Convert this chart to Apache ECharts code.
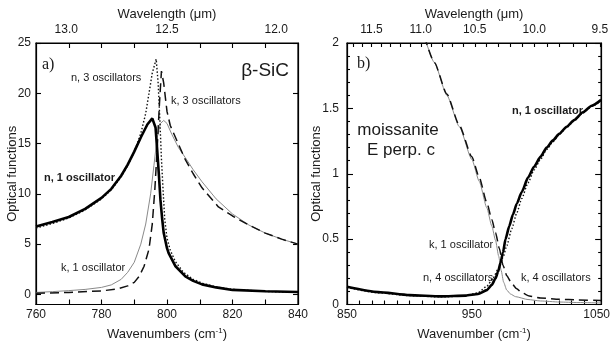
<!DOCTYPE html>
<html>
<head>
<meta charset="utf-8">
<script src="https://cdn.jsdelivr.net/npm/echarts@6/dist/echarts.min.js"></script>
<style>
  html, body { margin: 0; padding: 0; background: #fff; }
  #chart { width: 613px; height: 346px; }
</style>
</head>
<body>
<div id="chart"></div>
<script>
// panel a) beta-SiC, [wavenumber, value]
const nOneA = [[760,6.75],[765,7.2],[770,7.7],[775,8.5],[780,9.6],[783,10.5],[786,11.8],[788,12.9],[790,14.2],[792,15.6],[794,16.9],[795.5,17.5],[796.5,16.6],[797,14.4],[797.5,12.0],[798,9.4],[798.5,7.6],[799,6.1],[800,4.6],[800.5,4.1],[802.6,2.8],[805.6,1.8],[808,1.35],[810.7,1.0],[815,0.7],[820,0.45],[830,0.32],[840,0.25]]
const nThreeA = [[760,6.6],[765,7.05],[770,7.6],[775,8.4],[780,9.5],[783,10.4],[786,11.7],[788,12.8],[790,14.2],[792,16.0],[793.5,18.0],[794.5,20.0],[795.5,22.0],[796.7,23.4],[797.3,21.0],[797.8,17.5],[798.3,13.5],[798.8,10.4],[799.3,7.5],[800,5.6],[801,4.4],[802.5,3.3],[805,2.2],[808,1.5],[811,1.1],[815,0.75],[820,0.5],[830,0.3],[840,0.2]]
const kOneA = [[760,0.2],[765,0.28],[770,0.38],[775,0.5],[780,0.7],[783,0.95],[786,1.5],[788,2.2],[790,3.2],[792,5.0],[793.5,7.0],[795,10.0],[796,12.8],[797,15.6],[798,17.0],[799,17.3],[800,17.0],[801.5,15.9],[803.5,14.6],[805.6,13.6],[808,12.4],[810.7,11.2],[815,9.5],[820,8.0],[825,6.9],[830,6.1],[835,5.5],[840,5.0]]
const kThreeA = [[760,0.12],[770,0.2],[780,0.35],[785,0.55],[788,0.85],[790,1.2],[791.5,1.8],[793,2.8],[794.5,4.5],[795.5,7.0],[796.3,10.5],[797,14.5],[797.7,19.0],[798.3,22.2],[799,21.0],[800,18.2],[801,16.8],[802.6,15.6],[805.6,13.4],[808,12.0],[810.7,10.6],[815.7,8.7],[820,7.8],[825,6.9],[830,6.1],[835,5.5],[840,5.0]]

// panel b) moissanite E perp. c
const nOneB = [[850,0.135],[875,0.095],[900,0.072],[925,0.062],[945,0.068],[955,0.08],[962,0.11],[966,0.15],[969,0.2],[971,0.25],[973,0.32],[975,0.4],[977,0.5],[980,0.6],[983,0.69],[986,0.77],[990,0.86],[995,0.97],[1000,1.056],[1005,1.13],[1010,1.2],[1015,1.255],[1020,1.305],[1026,1.36],[1032,1.41],[1039,1.47],[1046,1.52],[1053.6,1.565]]
const nFourB = [[850,0.13],[875,0.09],[900,0.068],[925,0.058],[945,0.065],[955,0.09],[962,0.14],[967,0.2],[971,0.27],[975,0.36],[978,0.45],[982,0.58],[986,0.7],[990,0.81],[995,0.93],[1000,1.03],[1005,1.11],[1010,1.185],[1015,1.245],[1020,1.3],[1026,1.355],[1032,1.405],[1039,1.465],[1046,1.515],[1053.6,1.56]]
const kOneB = [[912,2.05],[920,1.85],[930,1.6],[940,1.36],[950,1.11],[956,0.94],[962,0.74],[966,0.6],[969,0.49],[971.5,0.37],[973.5,0.26],[975.5,0.17],[978,0.11],[981,0.08],[985,0.06],[995,0.038],[1005,0.027],[1020,0.019],[1035,0.015],[1053.6,0.012]]
const kFourB = [[912,2.05],[920,1.85],[930,1.61],[940,1.37],[950,1.13],[956,0.97],[962,0.78],[966,0.65],[969,0.55],[972,0.43],[975,0.3],[978,0.22],[982,0.16],[986,0.12],[990,0.09],[996,0.065],[1005,0.05],[1020,0.04],[1035,0.035],[1053.6,0.03]]

// ticks
const yTicksA = [0, 5, 10, 15, 20, 25]
const wavelengthLabelsA = [13.0, 12.5, 12.0]
const topTicksA = [770, 780, 790, 800, 810, 820, 830]
const bottomLabelsB = [850, 950, 1050]
const wavelengthLabelsB = [11.5, 11.0, 10.5, 10.0, 9.5]

const FONT = "Liberation Sans"
const INK = "#1a1a1a"
const toWn = (w) => 10000 / w

const minorTicksB = []
for (let w = 117; w >= 95; w--) minorTicksB.push(toWn(w / 10))
const bottomTicksB = []
for (let v = 850; v <= 1050; v += 10) bottomTicksB.push(v)

const chart = echarts.init(document.getElementById("chart"), null, { renderer: "canvas" })

const labelStyle = { fontFamily: FONT, fontSize: 12, color: INK }
const nameStyle = { fontFamily: FONT, fontSize: 13, color: INK }
const subName = {
  fontFamily: FONT, fontSize: 13, color: INK,
  rich: { sup: { fontFamily: FONT, fontSize: 8, color: INK, padding: [0, 0, 8, 0] } },
}
const tick = (len, extra) => Object.assign({ show: true, inside: true, length: len, lineStyle: { color: "#000", width: 1.1 } }, extra || {})
const minor = { show: true, splitNumber: 5, length: 3, lineStyle: { color: "#000", width: 1.1 } }
const axLine = { show: true, onZero: false, lineStyle: { color: "#000", width: 1.2 } }
const noSplit = { show: false }

const line = (name, data, x, y, style, smooth) => ({
  name, type: "line", data, xAxisIndex: x, yAxisIndex: y,
  symbol: "none", silent: true, animation: false,
  smooth: smooth || false, smoothMonotone: "x",
  lineStyle: style,
})

const option = {
  animation: false,
  backgroundColor: "#fff",
  grid: [
    { left: 36, right: 315, top: 43, bottom: 41, show: true, borderColor: "#000", borderWidth: 1.2, backgroundColor: "transparent" },
    { left: 347, right: 5, top: 43, bottom: 41, show: true, borderColor: "#000", borderWidth: 1.2, backgroundColor: "transparent" },
  ],
  xAxis: [
    {
      gridIndex: 0, type: "value", position: "bottom", min: 760, max: 840, interval: 10,
      axisLine: axLine, splitLine: noSplit, axisTick: tick(5),
      axisLabel: Object.assign({ margin: 4, formatter: (v) => (v % 20 === 0 ? String(v) : "") }, labelStyle),
      name: "Wavenumbers (cm{sup|-1})", nameLocation: "middle", nameGap: 22, nameMoveOverlap: false, nameTextStyle: subName,
    },
    {
      gridIndex: 0, type: "value", position: "top", min: 760, max: 840,
      axisLine: axLine, splitLine: noSplit, axisTick: tick(5, { customValues: topTicksA }),
      axisLabel: Object.assign({ margin: 7, customValues: wavelengthLabelsA.map(toWn), formatter: (v) => (10000 / v).toFixed(1) }, labelStyle),
      name: "Wavelength (μm)", nameLocation: "middle", nameGap: 22, nameMoveOverlap: false, nameTextStyle: nameStyle,
    },
    {
      gridIndex: 1, type: "value", position: "bottom", min: 850, max: 1053.6,
      axisLine: axLine, splitLine: noSplit, axisTick: tick(4, { customValues: bottomTicksB }),
      axisLabel: Object.assign({ margin: 4, customValues: bottomLabelsB, formatter: (v) => String(v) }, labelStyle),
      name: "Wavenumber (cm{sup|-1})", nameLocation: "middle", nameGap: 22, nameMoveOverlap: false, nameTextStyle: subName,
    },
    {
      gridIndex: 1, type: "value", position: "top", min: 850, max: 1053.6,
      axisLine: axLine, splitLine: noSplit, axisTick: tick(4, { customValues: minorTicksB }),
      axisLabel: Object.assign({ margin: 7, customValues: wavelengthLabelsB.map(toWn), formatter: (v) => (10000 / v).toFixed(1) }, labelStyle),
      name: "Wavelength (μm)", nameLocation: "middle", nameGap: 22, nameMoveOverlap: false, nameTextStyle: nameStyle,
    },
  ],
  yAxis: [
    {
      gridIndex: 0, type: "value", position: "left", min: -1, max: 25,
      axisLine: axLine, splitLine: noSplit, axisTick: tick(5, { customValues: yTicksA }),
      axisLabel: Object.assign({ margin: 5, customValues: yTicksA }, labelStyle),
      name: "Optical functions", nameLocation: "middle", nameGap: 17, nameMoveOverlap: false, nameTextStyle: nameStyle,
    },
    {
      gridIndex: 0, type: "value", position: "right", min: -1, max: 25,
      axisLine: axLine, splitLine: noSplit, axisTick: tick(5, { customValues: yTicksA }),
      axisLabel: { show: false },
    },
    {
      gridIndex: 1, type: "value", position: "left", min: 0, max: 2, interval: 0.5,
      axisLine: axLine, splitLine: noSplit, axisTick: tick(6), minorTick: minor,
      axisLabel: Object.assign({ margin: 8 }, labelStyle),
      name: "Optical functions", nameLocation: "middle", nameGap: 24, nameMoveOverlap: false, nameTextStyle: nameStyle,
    },
    {
      gridIndex: 1, type: "value", position: "right", min: 0, max: 2, interval: 0.5,
      axisLine: axLine, splitLine: noSplit, axisTick: tick(6), minorTick: minor,
      axisLabel: { show: false },
    },
  ],
  series: [
    line("k, 1 oscillator", kOneA, 0, 0, { color: "#8a8a8a", width: 1 }),
    line("k, 3 oscillators", kThreeA, 0, 0, { color: "#111", width: 1.5, type: [9, 5] }),
    line("n, 3 oscillators", nThreeA, 0, 0, { color: "#111", width: 1.4, type: [1.5, 2] }),
    line("n, 1 oscillator", nOneA, 0, 0, { color: "#000", width: 2.6 }),
    line("k, 1 oscillator", kOneB, 2, 2, { color: "#8a8a8a", width: 1 }, 0.2),
    line("k, 4 oscillators", kFourB, 2, 2, { color: "#111", width: 1.5, type: [9, 5] }, 0.2),
    line("n, 4 oscillators", nFourB, 2, 2, { color: "#111", width: 1.4, type: [1.5, 2] }, 0.2),
    line("n, 1 oscillator", nOneB, 2, 2, { color: "#000", width: 2.6 }, 0.2),
  ],
  graphic: [
    { type: "text", x: 42, y: 65, style: { text: "a)", font: "16px 'Liberation Serif'", fill: INK, verticalAlign: "middle" } },
    { type: "text", x: 289, y: 71, style: { text: "β-SiC", font: "19px '" + FONT + "'", fill: INK, align: "right", verticalAlign: "middle" } },
    { type: "text", x: 71, y: 78, style: { text: "n, 3 oscillators", font: "11px '" + FONT + "'", fill: INK, verticalAlign: "middle" } },
    { type: "text", x: 171, y: 101, style: { text: "k, 3 oscillators", font: "11px '" + FONT + "'", fill: INK, verticalAlign: "middle" } },
    { type: "text", x: 44, y: 178, style: { text: "n, 1 oscillator", font: "bold 11px '" + FONT + "'", fill: INK, verticalAlign: "middle" } },
    { type: "text", x: 61, y: 268, style: { text: "k, 1 oscillator", font: "11px '" + FONT + "'", fill: INK, verticalAlign: "middle" } },
    { type: "text", x: 357, y: 64, style: { text: "b)", font: "16px 'Liberation Serif'", fill: INK, verticalAlign: "middle" } },
    { type: "text", x: 398, y: 130, style: { text: "moissanite", font: "17px '" + FONT + "'", fill: INK, align: "center", verticalAlign: "middle" } },
    { type: "text", x: 401, y: 150, style: { text: "E perp. c", font: "17px '" + FONT + "'", fill: INK, align: "center", verticalAlign: "middle" } },
    { type: "text", x: 512, y: 111, style: { text: "n, 1 oscillator", font: "bold 11px '" + FONT + "'", fill: INK, verticalAlign: "middle" } },
    { type: "text", x: 429, y: 245, style: { text: "k, 1 oscillator", font: "11px '" + FONT + "'", fill: INK, verticalAlign: "middle" } },
    { type: "text", x: 423, y: 278, style: { text: "n, 4 oscillators", font: "11px '" + FONT + "'", fill: INK, verticalAlign: "middle" } },
    { type: "text", x: 521, y: 278, style: { text: "k, 4 oscillators", font: "11px '" + FONT + "'", fill: INK, verticalAlign: "middle" } },
  ],
}

chart.setOption(option)
window.addEventListener("resize", () => chart.resize())
</script>
</body>
</html>
